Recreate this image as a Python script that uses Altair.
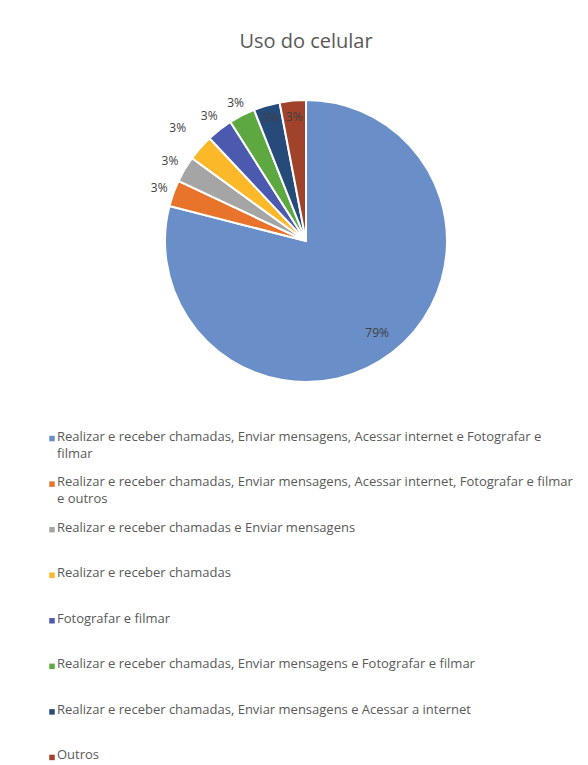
import altair as alt
import pandas as pd

categories = [
    "Realizar e receber chamadas, Enviar mensagens, Acessar internet e Fotografar e filmar",
    "Realizar e receber chamadas, Enviar mensagens, Acessar internet, Fotografar e filmar e outros",
    "Realizar e receber chamadas e Enviar mensagens",
    "Realizar e receber chamadas",
    "Fotografar e filmar",
    "Realizar e receber chamadas, Enviar mensagens e Fotografar e filmar",
    "Realizar e receber chamadas, Enviar mensagens e Acessar a internet",
    "Outros",
]
legend_text = [
    "Realizar e receber chamadas, Enviar mensagens, Acessar internet e Fotografar e\nfilmar",
    "Realizar e receber chamadas, Enviar mensagens, Acessar internet, Fotografar e filmar\ne outros",
    "Realizar e receber chamadas e Enviar mensagens",
    "Realizar e receber chamadas",
    "Fotografar e filmar",
    "Realizar e receber chamadas, Enviar mensagens e Fotografar e filmar",
    "Realizar e receber chamadas, Enviar mensagens e Acessar a internet",
    "Outros",
]
values = [79, 3, 3, 3, 3, 3, 3, 3]
labels = ["79%", "3%", "3%", "3%", "3%", "3%", "3%", "3%"]

# styling
colors = ["#6A8FC8", "#E8732B", "#A5A5A5", "#FBB829", "#4B5AAE", "#5DA840", "#264A7A", "#A0432A"]
label_radius = [116, 156, 158, 171, 158, 155, 128, 125]

df = pd.DataFrame({
    "cat": categories,
    "value": values,
    "label": labels,
    "order": list(range(len(categories))),
    "lr": label_radius,
    "ltext": legend_text,
})

color_scale = alt.Scale(domain=categories, range=colors)
theta_scale = alt.Scale(domain=[0, 100])
FONT = "Open Sans"

arcs = alt.Chart(df).mark_arc(outerRadius=141, stroke="white", strokeWidth=2).encode(
    theta=alt.Theta("value:Q", stack=True, scale=theta_scale),
    order=alt.Order("order:Q"),
    color=alt.Color("cat:N", scale=color_scale, legend=None),
)
texts = alt.Chart(df).transform_window(
    cum="sum(value)", sort=[alt.SortField("order")], frame=[None, 0]
).transform_calculate(
    mid="datum.cum - datum.value / 2"
).mark_text(fontSize=12, font=FONT, color="#404040").encode(
    theta=alt.Theta("mid:Q", stack=None, scale=theta_scale),
    radius=alt.Radius("lr:Q", scale=None),
    text="label:N",
)

pie = alt.layer(arcs, texts).properties(
    width=542, height=300,
    title=alt.TitleParams("Uso do celular", fontSize=20, font=FONT, fontWeight="normal",
                          color="#595959", offset=39, anchor="middle"),
)

spacer = alt.Chart(df).mark_point(opacity=0).encode(
    x=alt.value(0), y=alt.value(0)
).properties(width=24, height=300)

top = alt.hconcat(spacer, pie, spacing=0)

ybase = alt.Chart(df).encode(
    y=alt.Y("cat:N", sort=categories, axis=None, scale=alt.Scale(padding=0.1)),
)
squares = ybase.mark_square(size=30, opacity=1).encode(
    x=alt.value(41),
    color=alt.Color("cat:N", scale=color_scale, legend=None),
)
ltexts = ybase.mark_text(align="left", baseline="top", dy=-8, lineBreak="\n",
                         fontSize=13, font=FONT, color="#595959", lineHeight=17).encode(
    x=alt.value(46),
    text="ltext:N",
)
legend = alt.layer(squares, ltexts).properties(width=560, height=328)

chart = alt.vconcat(top, legend, spacing=39).properties(
    padding={"left": 0, "top": 24, "right": 0, "bottom": 0},
    background="white",
).configure_view(strokeWidth=0, stroke="transparent")

chart.save("out.html", embed_options={"renderer": "svg", "actions": False})
